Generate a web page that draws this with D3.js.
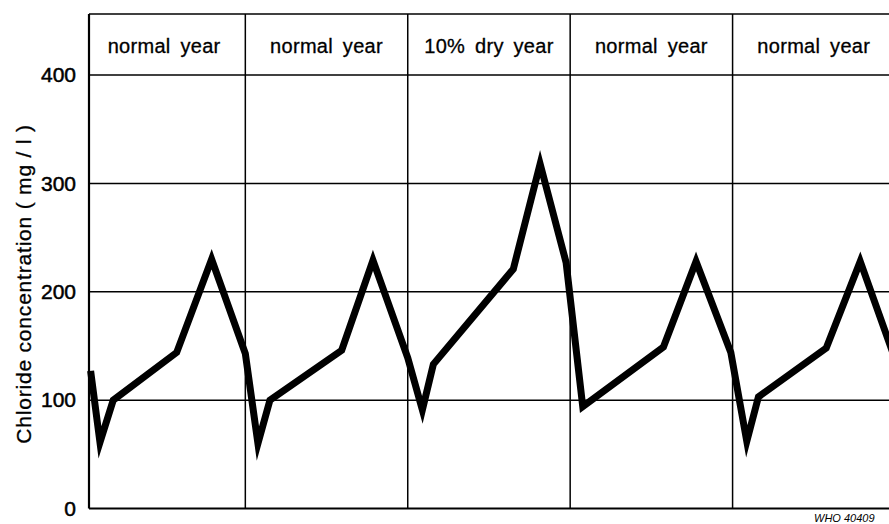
<!DOCTYPE html>
<html>
<head>
<meta charset="utf-8">
<script src="https://cdn.jsdelivr.net/npm/d3@7"></script>
<style>
  html, body { margin: 0; padding: 0; background: #fff; }
  svg { display: block; }
  text { font-family: "Liberation Sans", Arial, sans-serif; fill: #000; }
</style>
</head>
<body>
<svg id="chart" width="889" height="524"></svg>
<script>
// Seasonal chloride concentration over five years (time in months)
const months = [0.57, 1.26, 2.24, 6.93, 9.51, 12.0,
                12.93, 13.82, 19.12, 21.43, 24.0,
                25.08, 25.89, 31.8, 33.78, 35.7,
                36.93, 42.89, 45.3, 47.87,
                49.05, 49.91, 54.92, 57.43, 60.0];
const chloride = [127, 61, 100, 144, 230, 143,
                  60, 100, 146, 229, 139,
                  91, 133, 221, 318, 227,
                  94, 149, 228, 144,
                  62, 103, 148, 228, 138];
const yearLabels = ["normal year", "normal year", "10% dry year", "normal year", "normal year"];
const yTicks = [0, 100, 200, 300, 400];
const yTitle = "Chloride concentration ( mg / l )";

const svg = d3.select("#chart");
const axisStart = 0.45;   // the y axis sits a little into the first year
const x = d3.scaleLinear().domain([axisStart, 60]).range([89, 895]);
const y = d3.scaleLinear().domain([0, 400]).range([508.5, 75]);
const plotTop = 14, plotBottom = y(0);
const plotLeft = x(axisStart), plotRight = 889;

// horizontal grid lines
svg.append("g").selectAll("line")
  .data(yTicks.filter(d => d > 0))
  .join("line")
  .attr("x1", plotLeft).attr("x2", plotRight)
  .attr("y1", d => y(d)).attr("y2", d => y(d))
  .attr("stroke", "#000").attr("stroke-width", 1.5);

// top border and baseline
svg.append("line").attr("x1", plotLeft).attr("x2", plotRight).attr("y1", plotTop).attr("y2", plotTop)
  .attr("stroke", "#000").attr("stroke-width", 1.7);
svg.append("line").attr("x1", plotLeft).attr("x2", plotRight).attr("y1", plotBottom).attr("y2", plotBottom)
  .attr("stroke", "#000").attr("stroke-width", 2);

// year dividers
svg.append("g").selectAll("line")
  .data([12, 24, 36, 48])
  .join("line")
  .attr("x1", d => x(d)).attr("x2", d => x(d))
  .attr("y1", plotTop).attr("y2", plotBottom)
  .attr("stroke", "#000").attr("stroke-width", 1.5);

// y axis
const yAxis = d3.axisLeft(y).tickValues(yTicks).tickSize(0).tickPadding(13);
const gy = svg.append("g").attr("transform", `translate(${plotLeft},0)`).call(yAxis);
gy.select(".domain").attr("stroke", "#000").attr("stroke-width", 2.2)
  .attr("d", `M0,${plotTop}V${plotBottom}`);
gy.selectAll(".tick text")
  .attr("font-family", "Liberation Sans, Arial, sans-serif")
  .attr("font-size", 21).attr("fill", "#000")
  .attr("stroke", "#000").attr("stroke-width", 0.5);

// y title
svg.append("text")
  .attr("transform", `translate(31,${284}) rotate(-90)`)
  .attr("text-anchor", "middle")
  .attr("font-size", 21)
  .attr("letter-spacing", 0.8)
  .attr("stroke", "#000").attr("stroke-width", 0.3)
  .text(yTitle);

// year headers
svg.append("g").selectAll("text")
  .data(yearLabels)
  .join("text")
  .attr("x", (d, i) => x(i * 12 + 6))
  .attr("y", 53)
  .attr("text-anchor", "middle")
  .attr("font-size", 20)
  .attr("letter-spacing", 0.3)
  .attr("word-spacing", 4)
  .attr("stroke", "#000").attr("stroke-width", 0.3)
  .text(d => d);

// chloride curve
const line = d3.line().x(d => x(d[0])).y(d => y(d[1]));
svg.append("path")
  .datum(d3.zip(months, chloride))
  .attr("d", line)
  .attr("fill", "none")
  .attr("stroke", "#000")
  .attr("stroke-width", 7)
  .attr("stroke-linejoin", "miter")
  .attr("stroke-miterlimit", 10);

// figure reference
svg.append("text")
  .attr("x", 814).attr("y", 522)
  .attr("font-family", "Liberation Serif, serif")
  .attr("font-style", "italic")
  .attr("font-size", 11)
  .text("WHO  40409");
</script>
</body>
</html>
